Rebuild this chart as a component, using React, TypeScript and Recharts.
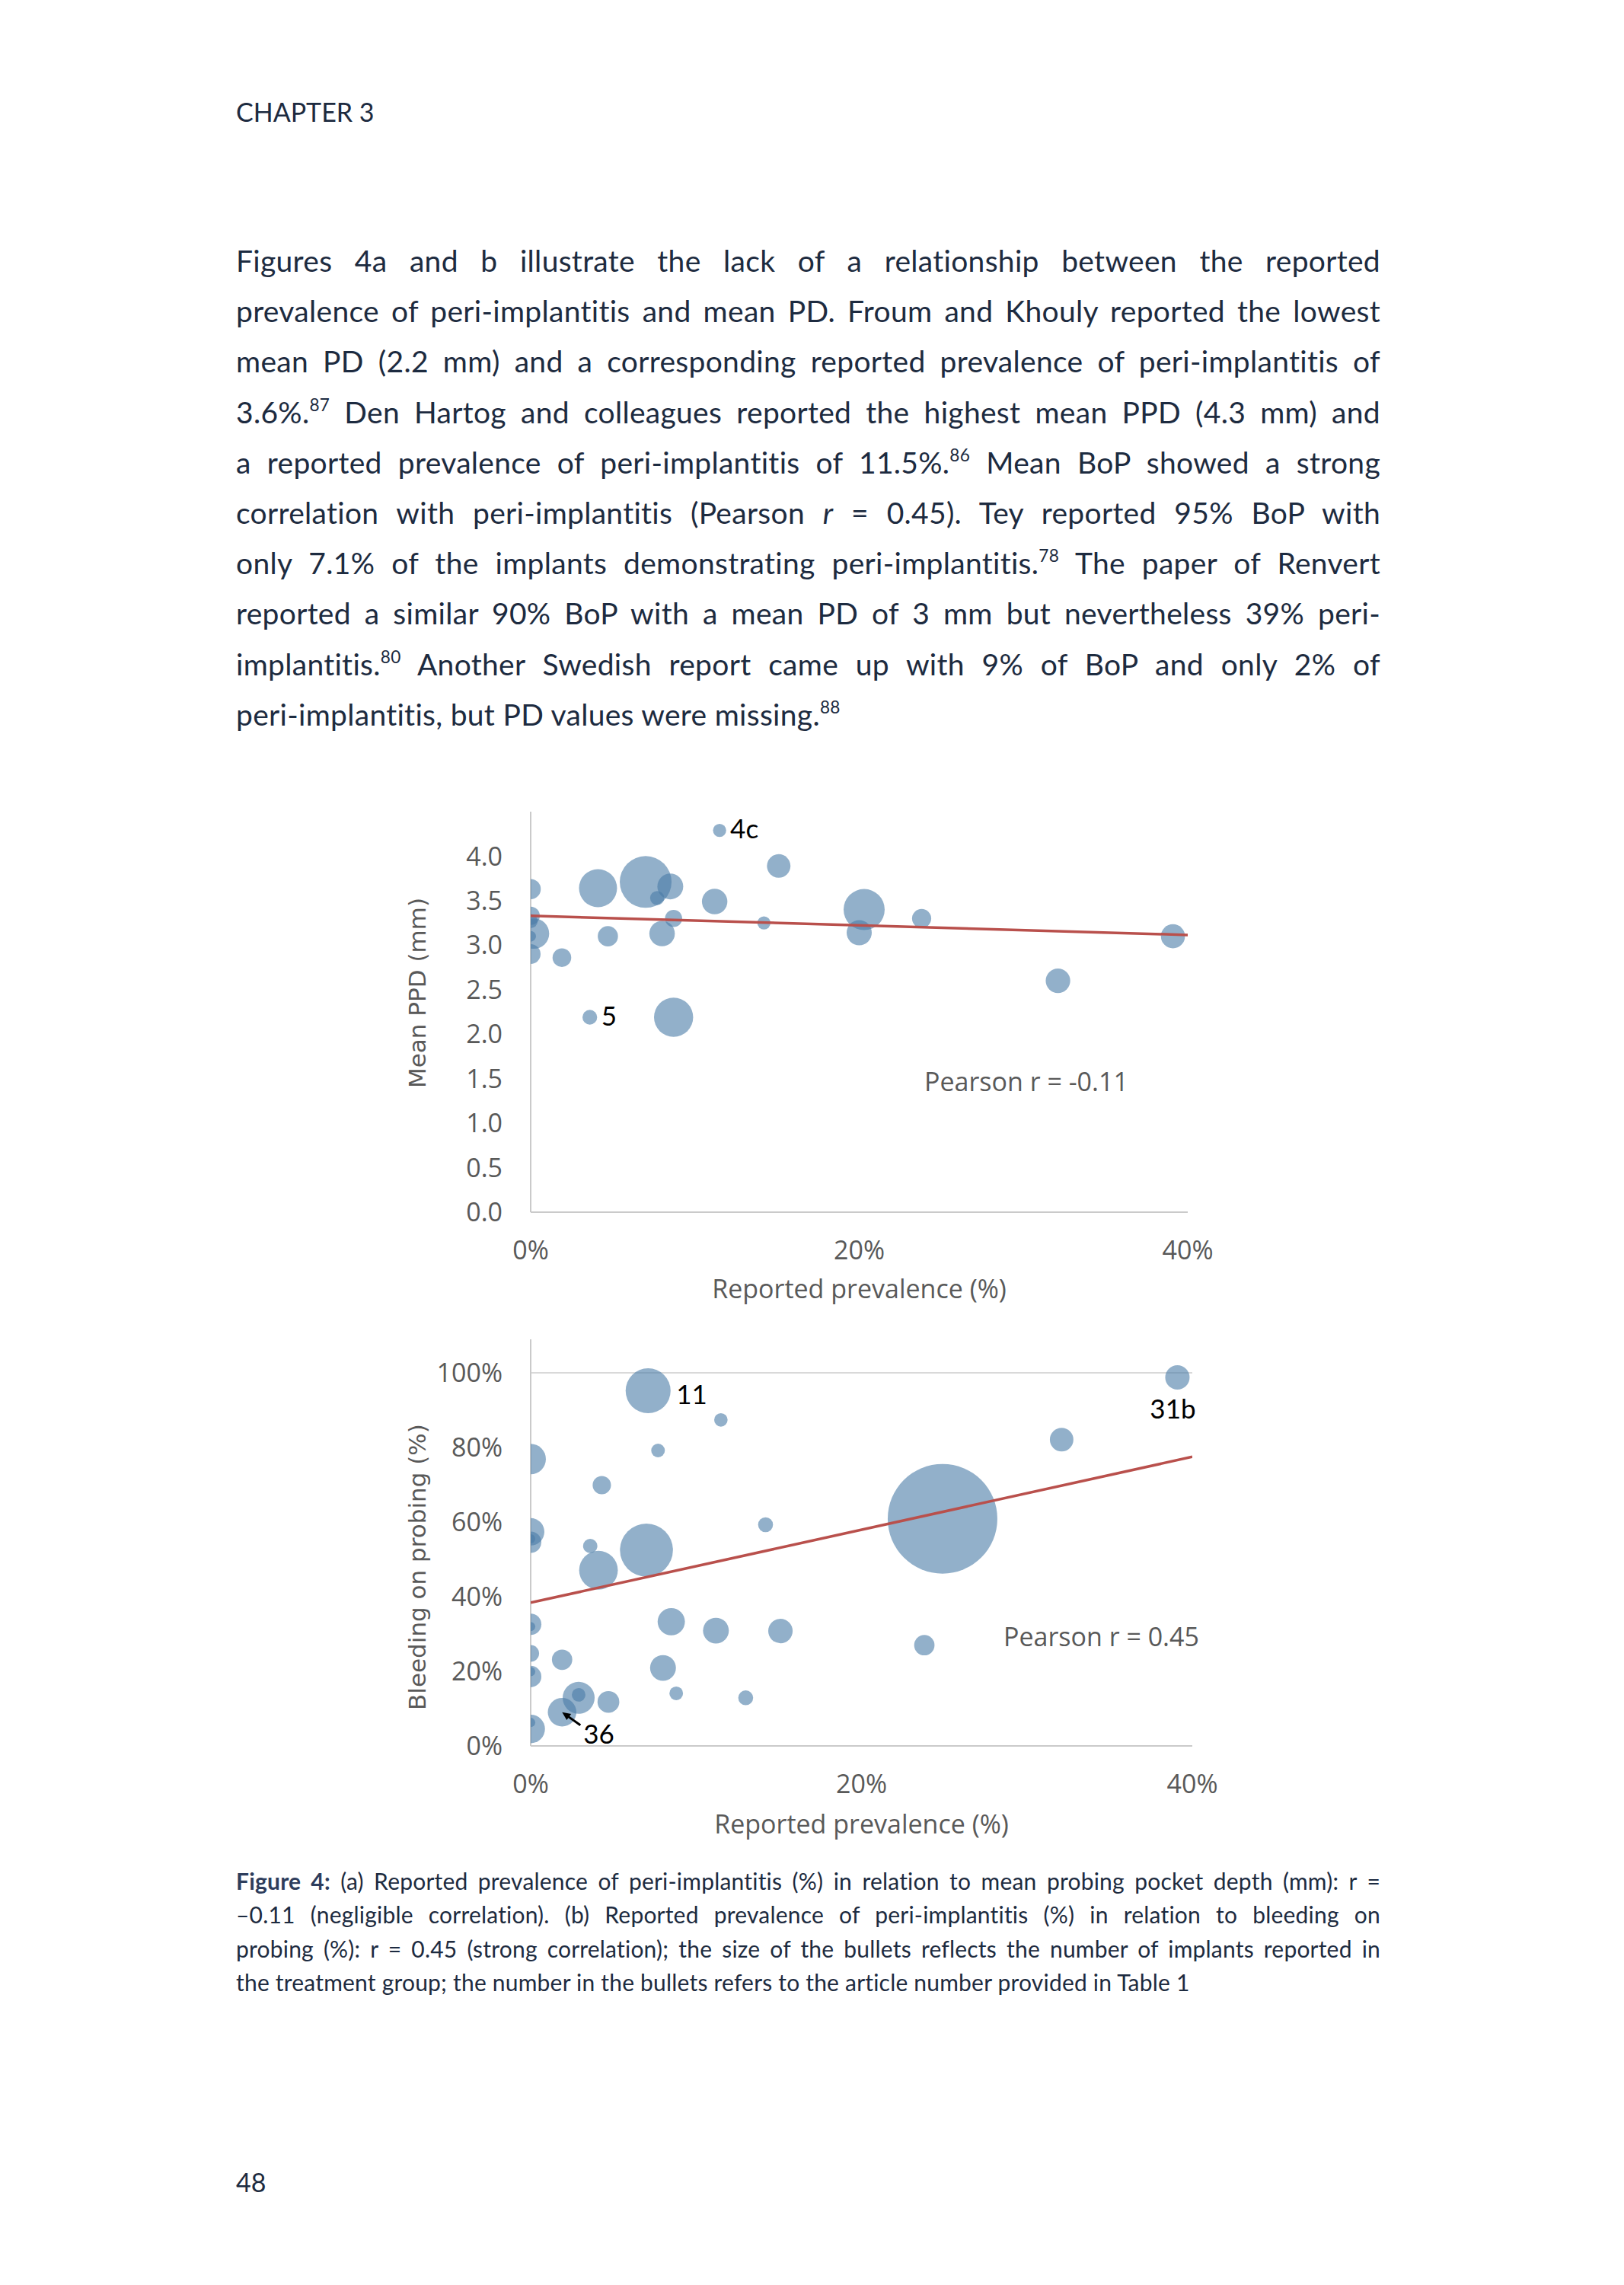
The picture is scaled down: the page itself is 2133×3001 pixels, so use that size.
import React from 'react';
import { ScatterChart, Scatter, XAxis, YAxis, ZAxis, ReferenceLine, ReferenceDot } from 'recharts';

// Fig 4a: reported prevalence (%) vs mean PPD (mm); bubble = implants in group
const pdPrevalence = [11.5, 4.1, 7.0, 8.5, 7.7, 11.2, 8.7, 14.2, 8.0, 4.7, 1.9, 3.6, 8.7, 15.1, 20.3, 23.8, 20.0, 39.1, 32.1, 0, 0, 0, 0.2, 0, 0];
const pdMean = [4.29, 3.64, 3.71, 3.66, 3.53, 3.49, 3.30, 3.25, 3.13, 3.10, 2.86, 2.19, 2.19, 3.89, 3.40, 3.30, 3.14, 3.10, 2.60, 3.63, 3.33, 3.27, 3.13, 3.10, 2.90];
const pdImplants = [29, 241, 446, 111, 33, 108, 49, 29, 108, 68, 58, 36, 255, 92, 281, 61, 105, 96, 100, 68, 56, 33, 154, 19, 65];
const pdRefs = ['4c', '', '', '', '', '', '', '', '', '', '', '5', '', '', '', '', '', '', '', '', '', '', '', '', ''];
const pdTrendX = [0, 40];
const pdTrendY = [3.33, 3.115];
const pdTicks = [0, 0.5, 1, 1.5, 2, 2.5, 3, 3.5, 4];

// Fig 4b: reported prevalence (%) vs bleeding on probing (%)
const bopPrevalence = [7.1, 39.1, 11.5, 7.7, 32.1, 0, 4.3, 24.9, 14.2, 0, 0, 0, 3.6, 7.0, 4.1, 8.5, 11.2, 15.1, 23.8, 0, 0, 0, 1.9, 8.0, 0, 0, 2.9, 2.9, 4.7, 8.8, 13.0, 1.9, 0, 0];
const bopValue = [95.2, 98.8, 87.4, 79.2, 82.1, 76.9, 69.9, 60.9, 59.3, 57.4, 54.6, 55.5, 53.6, 52.5, 47.1, 33.3, 30.9, 30.8, 27.0, 32.6, 32.0, 24.8, 23.1, 20.9, 18.6, 19.9, 12.9, 13.7, 11.8, 14.1, 12.9, 9.05, 4.55, 6.3];
const bopImplants = [336, 99, 30, 31, 92, 154, 56, 2000, 37, 125, 76, 14, 34, 467, 249, 124, 111, 99, 69, 76, 14, 47, 69, 111, 76, 14, 170, 31, 79, 31, 37, 136, 136, 14];
const bopRefs = ['11', '31b', '', '', '', '', '', '', '', '', '', '', '', '', '', '', '', '', '', '', '', '', '', '', '', '', '', '', '', '', '', '36', '', ''];
const bopTrendX = [0, 40];
const bopTrendY = [38.4, 77.5];
const bopTicks = [0, 20, 40, 60, 80, 100];

const prevTicks = [0, 20, 40];

const pdData = pdPrevalence.map((x, i) => ({ x, y: pdMean[i], n: pdImplants[i], ref: pdRefs[i] }));
const bopData = bopPrevalence.map((x, i) => ({ x, y: bopValue[i], n: bopImplants[i], ref: bopRefs[i] }));
const pdTrend = pdTrendX.map((x, i) => ({ x, y: pdTrendY[i] }));
const bopTrend = bopTrendX.map((x, i) => ({ x, y: bopTrendY[i] }));

const NAVY = '#1d2b40';
const BUBBLE = '#4A7BA7';
const TREND = '#B9504C';
const AXIS = '#CACACA';
const TICK = { fontSize: 34, fill: '#595959', fontFamily: '"Open Sans", sans-serif' };
const MAX_R = 72;

// label offsets (px) from the bubble centre
const calloutStyle: Record<string, { dx: number; dy: number; anchor: 'start' | 'middle'; arrow?: boolean }> = {
  '4c': { dx: 14, dy: 10, anchor: 'start' },
  '5': { dx: 15, dy: 11, anchor: 'start' },
  '11': { dx: 37, dy: 17, anchor: 'start' },
  '31b': { dx: -6, dy: 54, anchor: 'middle' },
  '36': { dx: 28, dy: 41, anchor: 'start', arrow: true },
};

function Bubble(p: any) {
  const r = typeof p.size === 'number' ? Math.sqrt(p.size / Math.PI) : (p.width || 0) / 2;
  return <circle cx={p.cx} cy={p.cy} r={r} fill={BUBBLE} fillOpacity={0.6} />;
}

const noDot = () => <g />;

const callout = (text: string) => (p: any) => {
  const s = calloutStyle[text];
  const { cx, cy } = p;
  return (
    <g>
      {s.arrow && (
        <g>
          <line x1={cx + 24} y1={cy + 17} x2={cx + 8} y2={cy + 5.7} stroke="#000" strokeWidth={3} />
          <polygon points={`${cx},${cy} ${cx + 11.9},${cy + 2.3} ${cx + 6.1},${cy + 10.4}`} fill="#000" />
        </g>
      )}
      <text x={cx + s.dx} y={cy + s.dy} textAnchor={s.anchor} fontSize={35} fontFamily="Lato, sans-serif" fill="#000">
        {text}
      </text>
    </g>
  );
};

function Sup({ children }: { children: React.ReactNode }) {
  return <span style={{ fontSize: '0.58em', lineHeight: 0, position: 'relative', top: '-0.7em' }}>{children}</span>;
}

const bodyLines = [
  <>Figures 4a and b illustrate the lack of a relationship between the reported</>,
  <>prevalence of peri-implantitis and mean PD. Froum and Khouly reported the lowest</>,
  <>mean PD (2.2 mm) and a corresponding reported prevalence of peri-implantitis of</>,
  <>3.6%.<Sup>87</Sup> Den Hartog and colleagues reported the highest mean PPD (4.3 mm) and</>,
  <>a reported prevalence of peri-implantitis of 11.5%.<Sup>86</Sup> Mean BoP showed a strong</>,
  <>correlation with peri-implantitis (Pearson <i>r</i> = 0.45). Tey reported 95% BoP with</>,
  <>only 7.1% of the implants demonstrating peri-implantitis.<Sup>78</Sup> The paper of Renvert</>,
  <>reported a similar 90% BoP with a mean PD of 3 mm but nevertheless 39% peri-</>,
  <>implantitis.<Sup>80</Sup> Another Swedish report came up with 9% of BoP and only 2% of</>,
  <>peri-implantitis, but PD values were missing.<Sup>88</Sup></>,
];

const captionLines = [
  <><b style={{ color: '#2e3d5c' }}>Figure 4:</b> (a) Reported prevalence of peri-implantitis (%) in relation to mean probing pocket depth (mm): r =</>,
  <>–0.11 (negligible correlation). (b) Reported prevalence of peri-implantitis (%) in relation to bleeding on</>,
  <>probing (%): r = 0.45 (strong correlation); the size of the bullets reflects the number of implants reported in</>,
  <>the treatment group; the number in the bullets refers to the article number provided in Table 1</>,
];

function Justified({ lines }: { lines: React.ReactNode[] }) {
  return (
    <>
      {lines.map((l, i) => {
        const last = i === lines.length - 1;
        return (
          <div key={i} style={{ textAlign: last ? 'left' : 'justify', textAlignLast: last ? 'left' : 'justify' }}>
            {l}
          </div>
        );
      })}
    </>
  );
}

export default function App() {
  return (
    <div
      style={{
        position: 'absolute', left: 0, top: 0, width: 2133, height: 3001, background: '#fff',
        fontFamily: 'Lato, sans-serif', color: NAVY, overflow: 'hidden',
      }}
    >
      <div style={{ position: 'absolute', left: 310, top: 130, fontSize: 34, lineHeight: '34px' }}>CHAPTER 3</div>

      <div style={{ position: 'absolute', left: 310, top: 309, width: 1503, fontSize: 39, letterSpacing: 0.3, lineHeight: '66.2px' }}>
        <Justified lines={bodyLines} />
      </div>

      {/* Figure 4a */}
      <div style={{ position: 'absolute', left: 520, top: 1000 }}>
        <ScatterChart width={1100} height={740} margin={{ top: 66, right: 60, bottom: 0, left: 0 }}>
          <XAxis
            type="number" dataKey="x" domain={[0, 40]} ticks={prevTicks} allowDataOverflow
            tickFormatter={(v) => `${v}%`} tick={TICK} tickLine={false} tickSize={0} tickMargin={38}
            axisLine={{ stroke: AXIS, strokeWidth: 2 }} height={148}
          />
          <YAxis
            type="number" dataKey="y" domain={[0, 4.5]} ticks={pdTicks}
            tickFormatter={(v) => Number(v).toFixed(1)} tick={TICK} tickLine={false} tickSize={0} tickMargin={37}
            axisLine={{ stroke: AXIS, strokeWidth: 2 }} width={177}
          />
          <ZAxis type="number" dataKey="n" domain={[0, 2000]} range={[0, Math.PI * MAX_R * MAX_R]} />
          <Scatter data={pdData} shape={Bubble} isAnimationActive={false} />
          <Scatter data={pdTrend} shape={noDot} line={{ stroke: TREND, strokeWidth: 3.5 }} isAnimationActive={false} />
          {pdData.filter((d) => d.ref).map((d) => (
            <ReferenceDot key={d.ref} x={d.x} y={d.y} r={1} shape={callout(d.ref)} />
          ))}
        </ScatterChart>
      </div>

      {/* Figure 4b */}
      <div style={{ position: 'absolute', left: 520, top: 1700 }}>
        <ScatterChart width={1110} height={740} margin={{ top: 59, right: 64, bottom: 0, left: 0 }}>
          <XAxis
            type="number" dataKey="x" domain={[0, 40]} ticks={prevTicks} allowDataOverflow
            tickFormatter={(v) => `${v}%`} tick={TICK} tickLine={false} tickSize={0} tickMargin={38}
            axisLine={{ stroke: AXIS, strokeWidth: 2 }} height={147}
          />
          <YAxis
            type="number" dataKey="y" domain={[0, 109]} ticks={bopTicks}
            tickFormatter={(v) => `${v}%`} tick={TICK} tickLine={false} tickSize={0} tickMargin={37}
            axisLine={{ stroke: AXIS, strokeWidth: 2 }} width={177}
          />
          <ZAxis type="number" dataKey="n" domain={[0, 2000]} range={[0, Math.PI * MAX_R * MAX_R]} />
          <ReferenceLine y={100} stroke="#D9D9D9" strokeWidth={2} />
          <Scatter data={bopData} shape={Bubble} isAnimationActive={false} />
          <Scatter data={bopTrend} shape={noDot} line={{ stroke: TREND, strokeWidth: 3.5 }} isAnimationActive={false} />
          {bopData.filter((d) => d.ref).map((d) => (
            <ReferenceDot key={d.ref} x={d.x} y={d.y} r={1} shape={callout(d.ref)} />
          ))}
        </ScatterChart>
      </div>

      <svg width={2133} height={3001} style={{ position: 'absolute', left: 0, top: 0, pointerEvents: 'none' }}>
        <g fill="#595959">
          <text x={548} y={1304} transform="rotate(-90 548 1304)" textAnchor="middle" dominantBaseline="central"
            fontFamily='"DejaVu Sans", sans-serif' fontSize={31}>Mean PPD (mm)</text>
          <text x={548} y={2058} transform="rotate(-90 548 2058)" textAnchor="middle" dominantBaseline="central"
            fontFamily='"DejaVu Sans", sans-serif' fontSize={31}>Bleeding on probing (%)</text>
          <text x={1128.5} y={1705} textAnchor="middle" fontFamily='"Open Sans", sans-serif' fontSize={34}>Reported prevalence (%)</text>
          <text x={1131.5} y={2408} textAnchor="middle" fontFamily='"Open Sans", sans-serif' fontSize={34}>Reported prevalence (%)</text>
          <text x={1214} y={1433} fontFamily='"Open Sans", sans-serif' fontSize={34}>Pearson r = -0.11</text>
          <text x={1318} y={2162} fontFamily='"Open Sans", sans-serif' fontSize={34}>Pearson r = 0.45</text>
        </g>
      </svg>

      <div style={{ position: 'absolute', left: 310, top: 2448, width: 1503, fontSize: 30, letterSpacing: 0.2, lineHeight: '44.3px' }}>
        <Justified lines={captionLines} />
      </div>

      <div style={{ position: 'absolute', left: 310, top: 2849, fontSize: 34, lineHeight: '34px' }}>48</div>
    </div>
  );
}
